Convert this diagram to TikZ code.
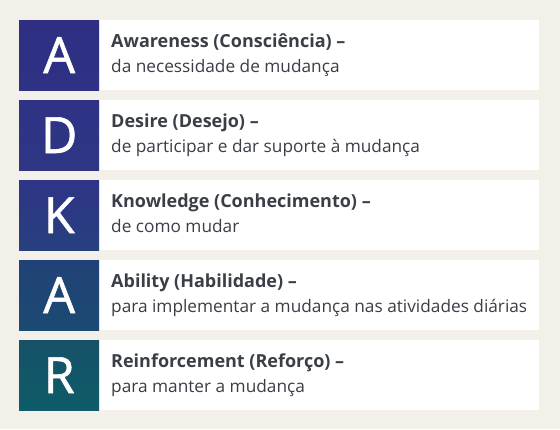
\documentclass[tikz,border=0pt]{standalone}
\usepackage{fontspec}
\setmainfont{Open Sans}
\newfontfamily\letterfont[FakeBold=1.2]{Open Sans}
\definecolor{bg}{HTML}{F3F0EA}
\definecolor{txt}{HTML}{3A3F47}
\definecolor{cA}{HTML}{2E2F82}
\definecolor{cAb}{HTML}{2E3184}
\definecolor{cD}{HTML}{2F3285}
\definecolor{cDb}{HTML}{2E3684}
\definecolor{cK}{HTML}{2E3486}
\definecolor{cKb}{HTML}{28407E}
\definecolor{cL}{HTML}{214277}
\definecolor{cLb}{HTML}{1B4A72}
\definecolor{cR}{HTML}{165168}
\definecolor{cRb}{HTML}{0E5C68}
\tikzset{
  letterbox/.style={minimum width=80pt,minimum height=70pt,inner sep=0pt,anchor=north west},
  textbox/.style={fill=white,minimum width=440pt,minimum height=70pt,inner sep=0pt,anchor=north west},
  bigletter/.style={text=white,font=\letterfont\fontsize{50}{50}\selectfont,anchor=base,inner sep=0pt},
  ttl/.style={text=txt,font=\fontsize{18}{18}\selectfont\bfseries,anchor=base west,inner sep=0pt},
  sub/.style={text=txt,font=\fontsize{17.25}{17.25}\selectfont,anchor=base west,inner sep=0pt},
}
\begin{document}
\begin{tikzpicture}[x=1pt,y=-1pt]
\fill[bg] (0,0) rectangle (560,429);
\useasboundingbox (0,0) rectangle (560,429);
\foreach \i/\L/\ct/\cb/\T/\S in {
  0/A/cA/cAb/Awareness (Consciência) –/da necessidade de mudança,
  1/D/cD/cDb/Desire (Desejo) –/de participar e dar suporte à mudança,
  2/K/cK/cKb/Knowledge (Conhecimento) –/de como mudar,
  3/A/cL/cLb/Ability (Habilidade) –/para implementar a mudança nas atividades diárias,
  4/R/cR/cRb/Reinforcement (Reforço) –/para manter a mudança}{
  \pgfmathsetmacro{\yy}{20+80*\i}
  \node[textbox] (box\i) at (99,\yy) {};
  \node[letterbox,top color=\ct,bottom color=\cb] (sq\i) at (19,\yy) {};
  \node[bigletter] (let\i) at ([yshift=-53pt]sq\i.north) {\L};
  \node[ttl] (t\i) at ([xshift=12pt,yshift=-27.5pt]box\i.north west) {\T};
  \node[sub] (s\i) at ([xshift=12pt,yshift=-52.5pt]box\i.north west) {\S};
}
\end{tikzpicture}
\end{document}
